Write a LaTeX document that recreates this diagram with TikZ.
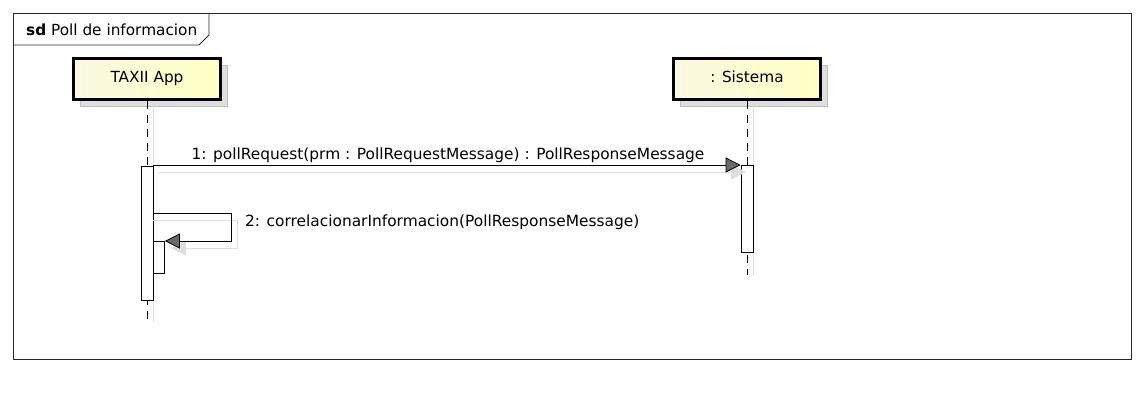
\documentclass[tikz,border=0pt]{standalone}
\usepackage{fontspec}
\setmainfont{DejaVu Sans}
\usetikzlibrary{arrows.meta}
\definecolor{headL}{RGB}{250,249,226}
\definecolor{headR}{RGB}{255,255,196}
\definecolor{shad}{RGB}{222,222,222}
\definecolor{framec}{RGB}{40,40,40}
\definecolor{tipc}{RGB}{105,105,105}
\tikzset{
  head/.style={draw=black, line width=2.6pt, minimum width=147pt, minimum height=41pt,
    shading=axis, left color=headL, right color=headR, shading angle=90,
    inner sep=0pt, font=\fontsize{15.3}{18}\selectfont},
  headshadow/.style={fill=shad, draw=shad!85!black, line width=0.6pt, minimum width=147pt, minimum height=41pt, inner sep=0pt},
  lifeline/.style={draw=black, line width=0.8pt, dash pattern=on 8pt off 6pt},
  lifeshadow/.style={draw=shad, line width=0.8pt},
  actbar/.style={draw=black, fill=white, line width=0.8pt, inner sep=0pt, minimum width=12pt},
  msg/.style={draw=black, line width=0.8pt, -{Triangle[length=15pt,width=15pt,fill=tipc]}},
  msgshadow/.style={draw=shad, line width=0.8pt, -{Triangle[length=15pt,width=15pt,fill=shad]}},
  msglabel/.style={font=\fontsize{15.4}{18}\selectfont, inner sep=0pt},
}
\begin{document}
\begin{tikzpicture}[x=1pt,y=-1pt]
\useasboundingbox (0,0) rectangle (1144,400);
% frame
\coordinate (fTL) at (13,13);
\coordinate (fBR) at (1131,359);
\draw[framec, line width=0.9pt] (fTL) rectangle (fBR);
\coordinate (tabA) at (13,45);
\coordinate (tabB) at (199,45);
\coordinate (tabC) at (209,35);
\coordinate (tabD) at (209,13);
\draw[framec, line width=0.9pt] (tabA) -- (tabB) -- (tabC) -- (tabD);
\node[anchor=west, inner sep=0pt, font=\fontsize{15.3}{18}\selectfont] (title) at (26,30) {\textbf{sd} Poll de informacion};

% lifeline heads (shadows)
\node[headshadow] (taxiiS) at (154,86) {};
\node[headshadow] (sisS) at (754,86) {};
% lifeline shadows
\coordinate (l1s0) at (153,100);
\coordinate (l1s1) at (153,322);
\coordinate (l2s0) at (753,100);
\coordinate (l2s1) at (753,275);
\draw[lifeshadow] (l1s0) -- (l1s1);
\draw[lifeshadow] (l2s0) -- (l2s1);
% heads
\node[head] (taxii) at (147,79) {\raisebox{4pt}{TAXII App}};
\node[head] (sis) at (747,79) {\raisebox{4pt}{: Sistema}};
% lifelines
\coordinate (l1end) at (147,322);
\coordinate (l2end) at (747,275);
\draw[lifeline] (taxii.south) -- (l1end);
\draw[lifeline] (sis.south) -- (l2end);

% activation bars
\node[actbar, minimum height=134pt, anchor=north] (act1) at (147,166) {};
\node[actbar, minimum height=87pt, anchor=north] (act2) at (747,165) {};

% message 1 shadow + message
\coordinate (m1a) at (158,172);
\coordinate (m1b) at (746,172);
\draw[msgshadow] (m1a) -- (m1b);
\draw[msg] (act1.north east |- act2.north west) -- (act2.north west);
\node[msglabel] (lab1) at (448,155) {1: pollRequest(prm : PollRequestMessage) : PollResponseMessage};

% self message shadow
\coordinate (s1a) at (153,220);
\coordinate (s1b) at (237,220);
\coordinate (s1c) at (237,248);
\coordinate (s1d) at (171,248);
\draw[msgshadow] (s1a) -- (s1b) -- (s1c) -- (s1d);

% nested activation
\node[actbar, minimum width=11pt, minimum height=32pt, anchor=north west] (act3) at (153,241) {};
\draw[actbar] (act1.east |- act3.north) -- (act3.north west);

% self message
\coordinate (s0a) at (153,213);
\coordinate (s0b) at (231,213);
\coordinate (s0c) at (231,241);
\draw[msg] (s0a) -- (s0b) -- (s0c) -- (act3.north east);
\node[msglabel, anchor=west] (lab2) at (245,222) {2: correlacionarInformacion(PollResponseMessage)};
\end{tikzpicture}
\end{document}
